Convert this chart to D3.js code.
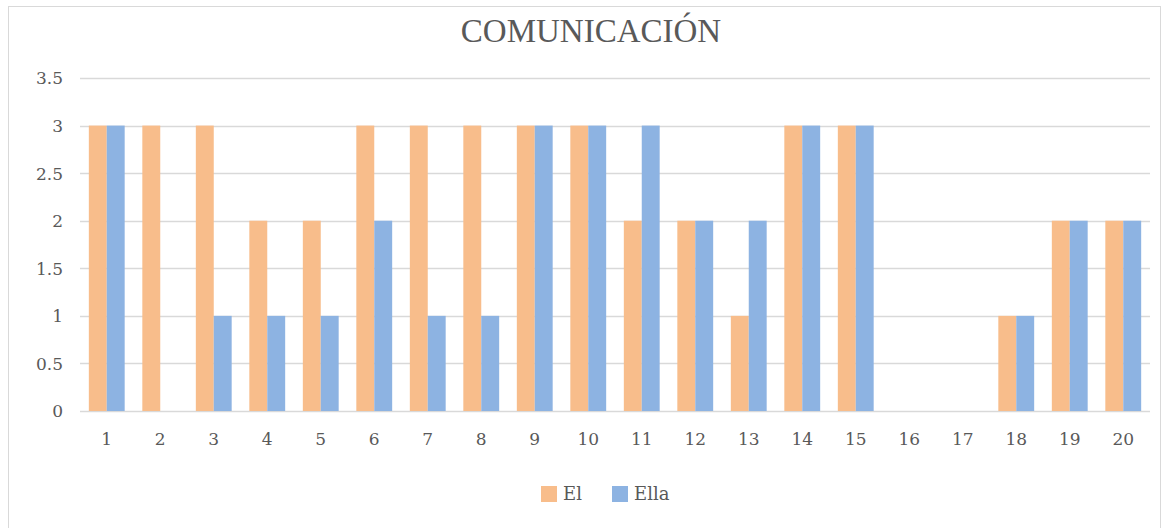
<!DOCTYPE html>
<html><head><meta charset="utf-8">
<script src="https://cdn.jsdelivr.net/npm/d3@7"></script>
<style>body{margin:0;background:#fff}svg{display:block}</style>
</head><body>
<svg id="c" width="1168" height="528"></svg>
<script>
const categories = ["1","2","3","4","5","6","7","8","9","10","11","12","13","14","15","16","17","18","19","20"];
const el   = [3,3,3,2,2,3,3,3,3,3,2,2,1,3,3,0,0,1,2,2];
const ella = [3,0,1,1,1,2,1,1,3,3,3,2,2,3,3,0,0,1,2,2];
const seriesNames = ["El","Ella"];
const yTicks = [0,0.5,1,1.5,2,2.5,3,3.5];
const title = "COMUNICACIÓN";

const colors = ["#F8BD8B","#8DB3E2"];
const font = "'Liberation Serif', serif";
const tfont = "'DejaVu Serif', serif";
const svg = d3.select("#c");
const m = {l:80, r:1150, t:78, b:411};

svg.append("rect").attr("x",8.5).attr("y",6.5).attr("width",1152).attr("height",540)
  .attr("fill","#fff").attr("stroke","#D9D9D9");

const x = d3.scaleBand().domain(categories).range([m.l,m.r]).paddingInner(0.33).paddingOuter(0.165);
const xs = d3.scaleBand().domain(seriesNames).range([0,x.bandwidth()]);
const y = d3.scaleLinear().domain([0,3.5]).range([m.b,m.t]);

// gridlines
svg.append("g").selectAll("line").data(yTicks).join("line")
  .attr("x1",m.l).attr("x2",m.r).attr("y1",d=>Math.round(y(d))+0.5).attr("y2",d=>Math.round(y(d))+0.5)
  .attr("stroke","#D9D9D9").attr("stroke-width",1.3);

// y axis labels
const yAxis = d3.axisLeft(y).tickValues(yTicks).tickSize(0).tickPadding(0).tickFormat(d=>String(d));
const ga = svg.append("g").attr("transform",`translate(63,0)`).call(yAxis);
ga.select(".domain").remove();
ga.selectAll("text").attr("font-family",tfont).attr("font-size",17).attr("fill","#595959").attr("dy","0.35em");

// x axis labels
const xAxis = d3.axisBottom(x).tickSize(0).tickPadding(0);
const gx = svg.append("g").attr("transform",`translate(0,${m.b+22})`).call(xAxis);
gx.select(".domain").remove();
gx.selectAll("text").attr("font-family",tfont).attr("font-size",17).attr("fill","#595959");

// bars
const data = [el, ella];
data.forEach((vals,si)=>{
  svg.append("g").selectAll("rect").data(vals).join("rect")
    .attr("x",(d,i)=>x(categories[i])+xs(seriesNames[si]))
    .attr("width",xs.bandwidth())
    .attr("y",d=>y(d)).attr("height",d=>y(0)-y(d))
    .attr("fill",colors[si]);
});

// title
svg.append("text").attr("x",591).attr("y",42).attr("text-anchor","middle")
  .attr("font-family",font).attr("font-size",33).attr("fill","#595959").text(title);

// legend
const lg = [{x:541,name:seriesNames[0]},{x:612,name:seriesNames[1]}];
lg.forEach((l,i)=>{
  svg.append("rect").attr("x",l.x).attr("y",486).attr("width",16).attr("height",16).attr("fill",colors[i]);
  svg.append("text").attr("x",l.x+22).attr("y",500).attr("font-family",tfont).attr("font-size",18)
    .attr("fill","#595959").text(l.name);
});
</script>
</body></html>
